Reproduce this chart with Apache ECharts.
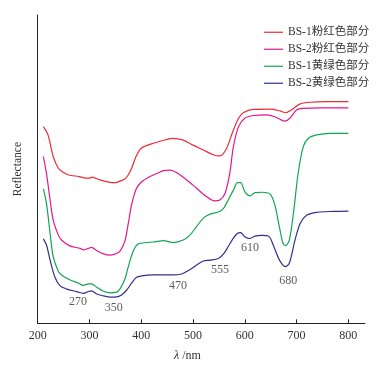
<!DOCTYPE html>
<html>
<head>
<meta charset="utf-8">
<script src="https://cdn.jsdelivr.net/npm/echarts@6/dist/echarts.min.js"></script>
<style>html,body{margin:0;padding:0;background:#fff}#c{width:385px;height:370px}</style>
</head>
<body>
<div id="c"></div>
<script>
var seriesNames = ['BS-1粉红色部分', 'BS-2粉红色部分', 'BS-1黄绿色部分', 'BS-2黄绿色部分'];
var xTicks = [200, 300, 400, 500, 600, 700, 800];

var red = [[211,63.8],[220,61.1],[230,54.1],[240,50.3],[250,48.9],[260,48.1],[280,47.6],[290,47.2],[300,47.1],[305,47.4],[320,46.5],[340,45.7],[350,45.6],[360,46.2],[370,47.0],[380,49.7],[390,54.1],[400,56.8],[420,58.2],[440,59.2],[460,60.0],[480,59.5],[500,57.8],[520,56.2],[540,54.6],[552,54.3],[565,56.8],[578,62.7],[588,66.5],[597,68.3],[616,69.4],[649,69.5],[668,68.9],[679,68.3],[690,69.2],[706,71.1],[726,71.7],[760,71.9],[800,71.9]];

var magenta = [[211,54.1],[217,48.6],[224,40.0],[230,33.5],[240,28.6],[246,27.0],[262,25.1],[282,24.3],[288,23.8],[298,24.3],[304,24.6],[314,23.6],[327,22.5],[340,22.1],[353,22.7],[360,23.6],[369,27.0],[375,32.4],[382,38.9],[391,43.8],[401,45.9],[417,47.6],[430,48.6],[443,49.5],[456,49.7],[468,48.9],[488,46.5],[507,43.8],[526,41.1],[542,39.7],[552,40.0],[562,42.2],[571,48.6],[578,57.3],[588,63.8],[600,66.5],[617,67.4],[642,67.6],[658,67.0],[671,65.9],[678,65.6],[687,66.5],[700,69.2],[713,69.7],[745,69.9],[800,69.9]];

var green = [[211,43.6],[217,38.9],[224,29.2],[230,21.6],[240,16.8],[246,15.7],[262,14.1],[279,13.0],[288,12.3],[298,12.8],[304,12.8],[314,11.7],[327,10.4],[340,9.9],[353,10.1],[360,11.4],[369,14.6],[375,18.4],[385,23.6],[394,25.7],[411,26.2],[430,26.5],[443,26.8],[462,26.2],[481,27.0],[494,28.6],[507,31.4],[520,34.1],[533,35.4],[549,36.1],[559,37.3],[568,40.0],[578,43.2],[586,45.6],[592,45.6],[600,42.7],[610,41.3],[620,42.4],[633,42.5],[649,41.9],[658,38.4],[668,30.3],[674,25.9],[679,25.2],[686,27.0],[694,35.7],[703,48.6],[713,57.3],[723,60.0],[739,61.1],[765,61.6],[800,61.6]];

var blue = [[211,27.4],[217,25.4],[224,20.5],[233,15.1],[243,12.2],[256,11.1],[275,10.3],[288,9.7],[298,10.3],[304,10.5],[314,9.5],[327,8.9],[340,8.5],[353,8.6],[362,9.2],[372,10.8],[382,13.2],[391,14.9],[401,15.4],[423,15.7],[443,15.7],[462,15.7],[478,16.0],[491,17.1],[507,18.9],[520,20.2],[533,20.5],[549,21.0],[559,22.5],[568,24.9],[578,27.6],[586,29.2],[592,29.4],[600,28.1],[609,27.5],[620,28.3],[633,28.5],[647,28.1],[656,24.9],[667,20.5],[678,18.4],[686,19.5],[697,27.0],[707,32.4],[720,35.1],[739,36.0],[771,36.3],[800,36.4]];

var annotationLabels = ['270', '350', '470', '555', '610', '680'];
var annotationX = [278, 347, 471, 552, 610, 684];
var annotationY = [6.9, 5.0, 12.1, 17.3, 24.4, 13.7];

var colors = ['#ee2a34', '#e4178f', '#10a651', '#2f3190'];
var serif = "'Liberation Serif','Times New Roman','Noto Sans CJK SC',serif";
var legendFont = "'Liberation Serif','Noto Sans CJK SC',serif";

var chart = echarts.init(document.getElementById('c'), null, {renderer: 'canvas'});
var dataSets = [red, magenta, green, blue];
var series = dataSets.map(function (d, i) {
  return {
    name: seriesNames[i], type: 'line', data: d, smooth: 0.3,
    showSymbol: false, symbol: 'none',
    xAxisIndex: 0, yAxisIndex: 0,
    lineStyle: {color: colors[i], width: 1.2},
    itemStyle: {color: colors[i]},
    z: 3
  };
});
series.push({
  type: 'scatter', xAxisIndex: 0, yAxisIndex: 0, symbolSize: 0, silent: true,
  data: annotationLabels.map(function (t, i) { return {name: t, value: [annotationX[i], annotationY[i]]}; }),
  label: {show: true, position: 'inside', formatter: '{b}', color: '#333', fontSize: 12, fontFamily: serif}
});

chart.setOption({
  animation: false,
  color: colors,
  grid: [
    {left: 37.67, right: 36.67, top: 15, bottom: 46.7},
    {left: 37.67, right: 20, top: 15, bottom: 46.7}
  ],
  xAxis: [
    {gridIndex: 0, type: 'value', min: xTicks[0], max: xTicks[xTicks.length - 1], interval: 100,
     axisLine: {show: false}, axisTick: {show: true, inside: true, length: 4, lineStyle: {color: '#222'}},
     axisLabel: {color: '#333', fontSize: 12, fontFamily: serif, margin: 7},
     splitLine: {show: false}},
    {gridIndex: 1, type: 'value', min: 0, max: 1,
     axisLine: {show: true, onZero: false, lineStyle: {color: '#222', width: 1}},
     axisTick: {show: false}, axisLabel: {show: false}, splitLine: {show: false}}
  ],
  yAxis: [
    {gridIndex: 0, type: 'value', min: 0, max: 100,
     name: 'Reflectance', nameLocation: 'middle', nameGap: 14,
     nameTextStyle: {color: '#333', fontSize: 11.5, fontFamily: serif},
     axisLine: {show: true, onZero: false, lineStyle: {color: '#222', width: 1}},
     axisTick: {show: false}, axisLabel: {show: false}, splitLine: {show: false}},
    {gridIndex: 1, type: 'value', min: 0, max: 1, show: false}
  ],
  legend: {
    orient: 'vertical', left: 259, top: 21.5, itemWidth: 19, itemHeight: 1.2, itemGap: 5.5,
    icon: 'rect',
    data: seriesNames,
    textStyle: {color: '#333', fontSize: 11.5, fontFamily: legendFont}
  },
  graphic: [{
    type: 'text', left: 174, top: 350,
    style: {
      text: '{i|λ} /nm',
      rich: {i: {fontStyle: 'italic', fontFamily: serif, fontSize: 12, fill: '#333'}},
      font: '12px ' + serif, fill: '#333'
    }
  }],
  series: series
});
</script>
</body>
</html>
